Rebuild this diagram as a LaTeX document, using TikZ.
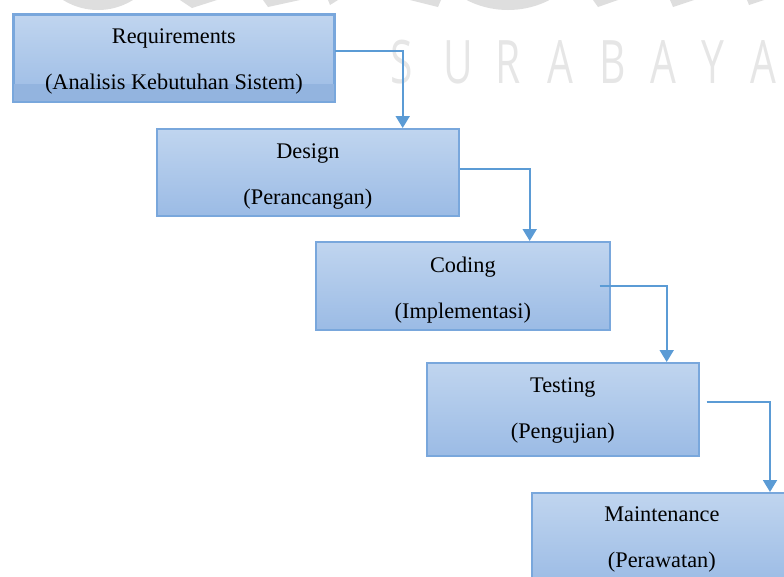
\documentclass[tikz,border=0pt]{standalone}
\usepackage{fontspec}
\setmainfont{Liberation Serif}
\newfontfamily\wmfont{Open Sans}
\usetikzlibrary{arrows.meta,calc}
\definecolor{boxtop}{HTML}{C0D5EF}
\definecolor{boxbot}{HTML}{9BBBE5}
\definecolor{boxband}{HTML}{93B4DF}
\definecolor{boxline}{HTML}{79A7DC}
\definecolor{conn}{HTML}{5B9BD5}
\definecolor{wmgray}{HTML}{E6E6E6}
\definecolor{wmtop}{HTML}{DEDEDE}
\begin{document}
\begin{tikzpicture}[x=1pt,y=-1pt,
  stagebox/.style={draw=boxline, line width=1.7pt, top color=boxtop, bottom color=boxbot,
    anchor=north west, inner sep=0pt},
  stagetext/.style={align=center, inner sep=0pt, font=\fontsize{22.3}{46}\selectfont},
  flow/.style={draw=conn, line width=1.9pt, -{Triangle[width=14pt,length=12pt]}},
  wmletter/.style={text=wmgray, font=\wmfont\fontsize{60}{60}\selectfont, xscale=0.68, inner sep=0pt}]
\useasboundingbox (0,0) rectangle (784,576);
\clip (0,0) rectangle (784,576);
% watermark (tops of large letters)
\fill[wmtop] (98,-56) circle (66);
\fill[wmtop] (508,-81) circle (91);
\fill[wmtop] (180,0) -- (217,0) -- (192,8) -- cycle;
\fill[wmtop] (263,0) -- (300,0) -- (268,7) -- cycle;
\fill[wmtop] (328,0) -- (338,0) -- (330,5) -- cycle;
\fill[wmtop] (410,0) -- (441,0) -- (438,7) -- cycle;
\fill[wmtop] (593,0) -- (618,0) -- (598,7) -- cycle;
\fill[wmtop] (670,0) -- (694,0) -- (673,7) -- cycle;
\fill[wmtop] (747,0) -- (764,0) -- (749,5) -- cycle;
% watermark SURABAYA
\foreach \ch/\xx [count=\i] in {S/402,U/458,R/508,A/560,B/613,A/663,Y/713,A/763}
  \node[wmletter] (wm\i) at (\xx,62) {\ch};
% boxes
\node[stagebox, minimum width=320pt, minimum height=86pt] (req) at (13,14) {};
\fill[boxband] ([xshift=0.85pt,yshift=-70pt]req.north west) rectangle ([xshift=-0.85pt,yshift=0.85pt]req.south east);
\draw[boxline, line width=1.7pt] (req.north west) rectangle (req.south east);
\node[stagebox, minimum width=302pt, minimum height=87pt] (des) at (156,128) {};
\node[stagebox, minimum width=294pt, minimum height=88pt] (cod) at (315,241) {};
\node[stagebox, minimum width=272pt, minimum height=93pt] (tes) at (426,362) {};
\node[stagebox, minimum width=262pt, minimum height=93pt] (mai) at (531,492) {};
% texts
\node[stagetext] (reqtxt) at ([yshift=-4pt]req.center) {Requirements\\(Analisis Kebutuhan Sistem)};
\node[stagetext] (destxt) at ([yshift=-4pt]des.center) {Design\\(Perancangan)};
\node[stagetext] (codtxt) at ([yshift=-4pt]cod.center) {Coding\\(Implementasi)};
\node[stagetext] (testxt) at ([yshift=-1pt]tes.center) {Testing\\(Pengujian)};
\node[stagetext] (maitxt) at ([xshift=-1pt,yshift=0pt]mai.center) {Maintenance\\(Perawatan)};
% connectors
\coordinate (s1) at ([yshift=7pt]req.east);
\coordinate (s2) at ([yshift=3.5pt]des.east);
\coordinate (s3) at ([xshift=-11pt]cod.east);
\coordinate (s4) at ([xshift=7pt,yshift=7.5pt]tes.east);
\draw[flow] (s1) -| ([xshift=-57pt]des.north east);
\draw[flow] (s2) -| ([xshift=-81pt]cod.north east);
\draw[flow] (s3) -| ([xshift=-33pt]tes.north east);
\draw[flow] (s4) -| ([xshift=239pt]mai.north west);
\end{tikzpicture}
\end{document}
